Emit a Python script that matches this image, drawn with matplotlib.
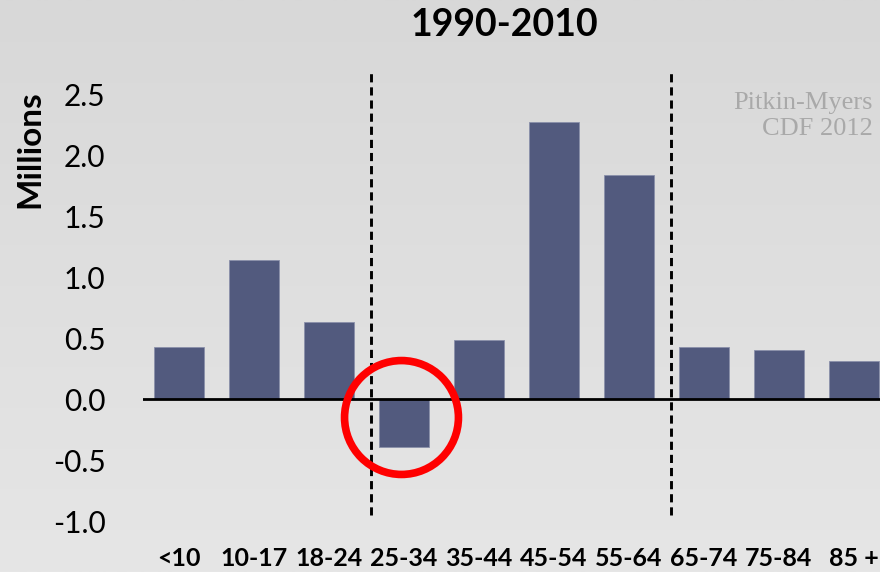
import matplotlib
matplotlib.use("Agg")
import matplotlib.pyplot as plt
import numpy as np

# age groups and population change 1990-2010 (millions)
age_groups = ["<10", "10-17", "18-24", "25-34", "35-44", "45-54", "55-64", "65-74", "75-84", "85 +"]
change_millions = [0.43, 1.14, 0.63, -0.39, 0.49, 2.27, 1.84, 0.43, 0.40, 0.31]
y_ticks = [-1.0, -0.5, 0.0, 0.5, 1.0, 1.5, 2.0, 2.5]
divider_positions = [2.56, 6.56]
highlight_index = 3

plt.rcParams["font.family"] = ["Lato", "DejaVu Sans"]

fig = plt.figure(figsize=(8.8, 5.72), dpi=100)

# light grey vertical gradient background
bg = fig.add_axes([0, 0, 1, 1], zorder=-10)
grad = np.linspace(0, 1, 256).reshape(-1, 1)
bg.imshow(grad, aspect="auto", cmap=matplotlib.colors.LinearSegmentedColormap.from_list(
    "bg", ["#d8d8d8", "#e6e6e6"]), extent=[0, 1, 0, 1])
bg.axis("off")

ax = fig.add_axes([0.1625, 0.078, 0.8375, 0.7998])
ax.patch.set_alpha(0)

x = np.arange(len(age_groups))
ax.bar(x, change_millions, width=0.667, color="#525a7e", edgecolor="#8a90aa", linewidth=0.6, zorder=2)
ax.axhline(0, color="black", lw=2, zorder=3)

for xp in divider_positions:
    ax.plot([xp, xp], [-0.948, 2.675], color="black", lw=2.1, dashes=(2.8, 1.7), zorder=4, clip_on=False)

# red circle highlighting the 25-34 decline
ax.plot(highlight_index - 0.044, change_millions[highlight_index] + 0.245, "o", ms=82, mfc="none",
        mec="#ff0000", mew=5.5, zorder=5, clip_on=False)

ax.set_xlim(-0.48, 9.347)
ax.set_ylim(-1.05, 2.7)
ax.set_yticks(y_ticks)
ax.set_yticklabels([f"{v:.1f}" for v in y_ticks], fontsize=21.5)
ax.set_xticks(x)
ax.set_xticklabels(age_groups, fontsize=18, fontweight="bold")
ax.tick_params(axis="y", length=0, pad=27)
ax.tick_params(axis="x", length=0, pad=14)
for s in ax.spines.values():
    s.set_visible(False)

fig.text(30 / 880, 1 - 149 / 572, "Millions", rotation=90, fontsize=24, fontweight="bold",
         ha="center", va="center")
fig.text(504 / 880, 1 - 25 / 572, "1990-2010", fontsize=27, fontweight="bold", ha="center", va="center")
fig.text(873 / 880, 1 - 116 / 572, "Pitkin-Myers\nCDF 2012", fontsize=19, family="Liberation Serif",
         color="#a9a9a9", ha="right", va="center", linespacing=1.2)

fig.savefig("out.png", dpi=100)
